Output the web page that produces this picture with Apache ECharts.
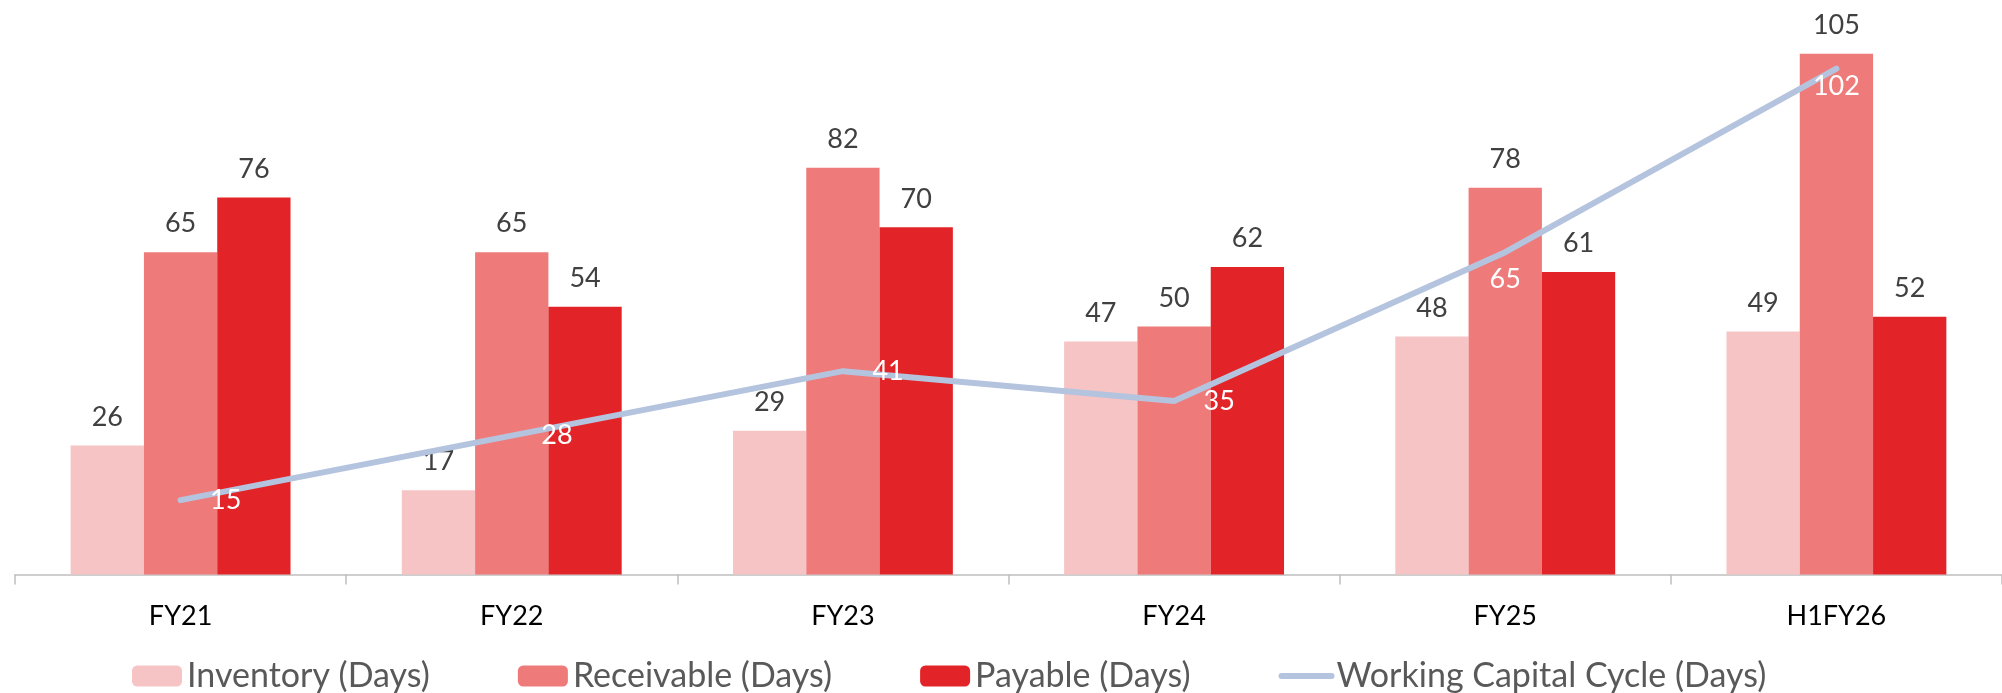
<!DOCTYPE html>
<html>
<head>
<meta charset="utf-8">
<script src="https://cdn.jsdelivr.net/npm/echarts@6/dist/echarts.min.js"></script>
<style>
  html, body { margin: 0; padding: 0; background: #fff; }
  #chart { width: 2002px; height: 693px; }
</style>
</head>
<body>
<div id="chart"></div>
<script>
var categories = ['FY21', 'FY22', 'FY23', 'FY24', 'FY25', 'H1FY26'];
var inventory = [26, 17, 29, 47, 48, 49];
var receivable = [65, 65, 82, 50, 78, 105];
var payable = [76, 54, 70, 62, 61, 52];
var wcCycle = [15, 28, 41, 35, 65, 102];

var font = 'Lato';
var lineColor = '#b4c3de';
var barLabel = {
  show: true,
  position: 'top',
  distance: 15,
  color: '#404040',
  fontSize: 27,
  fontFamily: font
};

// last two line labels sit under the point, the rest to the right
var lineData = wcCycle.map(function (v, i) {
  var below = i >= 4;
  return {
    value: v,
    label: below ? { position: 'bottom', distance: i == 5 ? 4 : 13 } : { position: 'right', distance: 29 }
  };
});

var chart = echarts.init(document.getElementById('chart'));
chart.setOption({
  animation: false,
  grid: { left: 15, top: 29, width: 1990, height: 545.5 },
  legend: {
    left: 127,
    top: 654,
    itemWidth: 50,
    itemHeight: 21,
    itemGap: 88,
    textStyle: { color: '#595959', fontSize: 34, fontFamily: font },
    data: [
      'Inventory (Days)',
      'Receivable (Days)',
      'Payable (Days)',
      {
        name: 'Working Capital Cycle (Days)',
        itemStyle: { opacity: 0 },
        lineStyle: { width: 6, cap: 'round', color: lineColor }
      }
    ]
  },
  xAxis: {
    type: 'category',
    data: categories,
    axisLine: { lineStyle: { color: '#bfbfbf', width: 1.5 } },
    axisTick: { show: true, length: 10, lineStyle: { color: '#bfbfbf', width: 1.5 } },
    axisLabel: { color: '#000', fontSize: 27, fontFamily: font, margin: 28 }
  },
  yAxis: {
    type: 'value',
    min: 0,
    max: 110,
    show: false,
    splitLine: { show: false }
  },
  series: [
    {
      name: 'Inventory (Days)',
      type: 'bar',
      data: inventory,
      barGap: 0,
      barCategoryGap: '33.6%',
      itemStyle: { color: '#f6c4c5' },
      label: barLabel
    },
    {
      name: 'Receivable (Days)',
      type: 'bar',
      data: receivable,
      itemStyle: { color: '#ef7a7a' },
      label: barLabel
    },
    {
      name: 'Payable (Days)',
      type: 'bar',
      data: payable,
      itemStyle: { color: '#e22428' },
      label: barLabel
    },
    {
      name: 'Working Capital Cycle (Days)',
      type: 'line',
      data: lineData,
      symbol: 'circle',
      symbolSize: 1,
      itemStyle: { color: lineColor },
      lineStyle: { color: lineColor, width: 6, cap: 'round' },
      label: {
        show: true,
        color: '#fff',
        fontSize: 27,
        fontFamily: font
      },
      z: 5
    }
  ]
});
</script>
</body>
</html>
